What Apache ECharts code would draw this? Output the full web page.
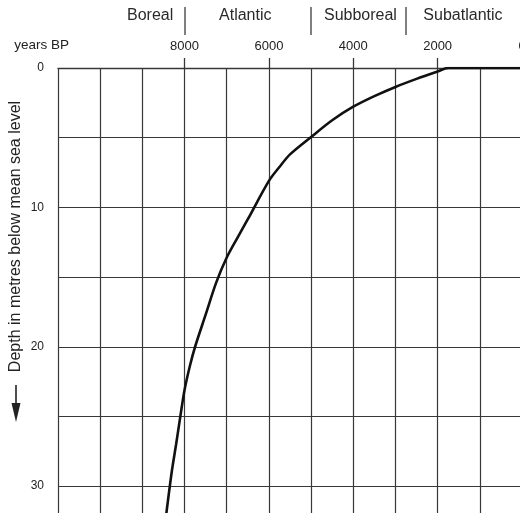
<!DOCTYPE html>
<html><head><meta charset="utf-8">
<script src="https://cdn.jsdelivr.net/npm/echarts@6/dist/echarts.min.js"></script>
<style>html,body{margin:0;padding:0;background:#fff}#c{width:520px;height:513px}</style>
</head><body><div id="c"></div>
<script>
const yearsBP = [8433, 8300, 8200, 8100, 8000, 7875, 7750, 7500, 7250, 7000, 6750, 6500, 6000, 5750, 5500, 5000, 4500, 4000, 3500, 3000, 2500, 2000, 1750, 0];
const depthM  = [32, 28.9, 27.0, 25.0, 23.1, 21.4, 20, 17.7, 15.4, 13.6, 12.2, 10.85, 8.1, 7.1, 6.2, 4.95, 3.75, 2.78, 2.02, 1.36, 0.78, 0.25, 0, 0];
const yearTicks = [0, 2000, 4000, 6000, 8000];
const depthTicks = [0, 10, 20, 30];
const periodNames = ['Boreal', 'Atlantic', 'Subboreal', 'Subatlantic'];
const periodLabelAt = [8815, 6560, 3830, 1400];
const periodBounds = [8000, 5000, 2750];

const FONT = '"Liberation Sans", Arial, sans-serif';
const GRID_COLOR = '#383838';
const TEXT = '#222';
const chart = echarts.init(document.getElementById('c'), null, {renderer: 'canvas'});

const curve = yearsBP.map((y, i) => [y, depthM[i]]);
const noBounds = {outerBoundsMode: 'none', containLabel: false};

chart.setOption({
  animation: false,
  backgroundColor: '#fff',
  grid: [
    Object.assign({left: 58, top: 68, width: 464, height: 446}, noBounds),
    Object.assign({left: 58, top: 7, width: 464, height: 28}, noBounds),
    Object.assign({left: 58, top: 0, width: 464, height: 68}, noBounds),
    Object.assign({left: 0, top: 68, width: 58, height: 446}, noBounds)
  ],
  xAxis: [
    {
      gridIndex: 0, type: 'value', position: 'top', inverse: true,
      min: 0, max: 11000, interval: 1000,
      name: 'years BP', nameLocation: 'end', nameGap: -11,
      nameTextStyle: {fontFamily: FONT, fontSize: 13.5, color: TEXT, verticalAlign: 'bottom', padding: [0, 0, 16, 0]},
      axisLine: {show: true, lineStyle: {color: GRID_COLOR, width: 1.3}},
      axisTick: {show: false},
      axisLabel: {show: false},
      splitLine: {show: true, lineStyle: {color: GRID_COLOR, width: 1.2}}
    },
    {gridIndex: 1, type: 'value', inverse: true, min: 0, max: 11000, show: false},
    {
      gridIndex: 2, type: 'value', position: 'bottom', inverse: true, min: 0, max: 11000,
      axisLine: {show: false},
      axisTick: {show: true, inside: true, customValues: yearTicks, length: 10, lineStyle: {color: GRID_COLOR, width: 1.3}},
      axisLabel: {show: true, inside: true, customValues: yearTicks, margin: 15, formatter: v => String(v),
                  fontFamily: FONT, fontSize: 13, color: TEXT},
      splitLine: {show: false}
    },
    {gridIndex: 3, type: 'value', min: 0, max: 1, show: false}
  ],
  yAxis: [
    {
      gridIndex: 0, type: 'value', inverse: true,
      min: 0, max: 32, interval: 5,
      name: 'Depth in metres below mean sea level', nameLocation: 'middle', nameGap: 34, nameRotate: 90,
      nameTextStyle: {fontFamily: FONT, fontSize: 16, color: TEXT, padding: [0, 0, 0, 109]},
      axisLine: {show: true, lineStyle: {color: GRID_COLOR, width: 1.3}},
      axisTick: {show: false},
      axisLabel: {show: false},
      splitLine: {show: true, lineStyle: {color: GRID_COLOR, width: 1.2}}
    },
    {gridIndex: 1, type: 'value', min: 0, max: 1, show: false},
    {gridIndex: 2, type: 'value', min: 0, max: 1, show: false},
    {
      gridIndex: 3, type: 'value', position: 'right', inverse: true, min: 0, max: 32,
      axisLine: {show: false},
      axisTick: {show: true, inside: true, customValues: depthTicks, length: 10, lineStyle: {color: GRID_COLOR, width: 1.3}},
      axisLabel: {show: true, inside: true, customValues: depthTicks, margin: 14,
                  fontFamily: FONT, fontSize: 12, color: TEXT},
      splitLine: {show: false}
    }
  ],
  graphic: [
    {type: 'line', shape: {x1: 16, y1: 385, x2: 16, y2: 405}, style: {stroke: '#222', lineWidth: 1.6}},
    {type: 'polygon', shape: {points: [[11.5, 403], [20.5, 403], [16, 422]]}, style: {fill: '#222'}}
  ],
  series: [
    {
      type: 'line', xAxisIndex: 0, yAxisIndex: 0,
      data: curve, smooth: 0.3, symbol: 'none',
      lineStyle: {color: '#111', width: 2.6}
    },
    {
      type: 'scatter', xAxisIndex: 1, yAxisIndex: 1,
      data: periodLabelAt.map((x, i) => ({value: [x, 0.5], name: periodNames[i]})),
      symbolSize: 0,
      itemStyle: {opacity: 1, color: '#222'},
      label: {show: true, position: 'inside', offset: [0, -5], formatter: p => p.name,
              fontFamily: FONT, fontSize: 16, color: '#2a2a2a', opacity: 1},
      markLine: {
        silent: true, symbol: 'none', label: {show: false},
        lineStyle: {color: '#555', width: 1.5, type: 'solid', opacity: 1},
        data: periodBounds.map(b => ({xAxis: b}))
      }
    }
  ]
});
</script>
</body></html>
